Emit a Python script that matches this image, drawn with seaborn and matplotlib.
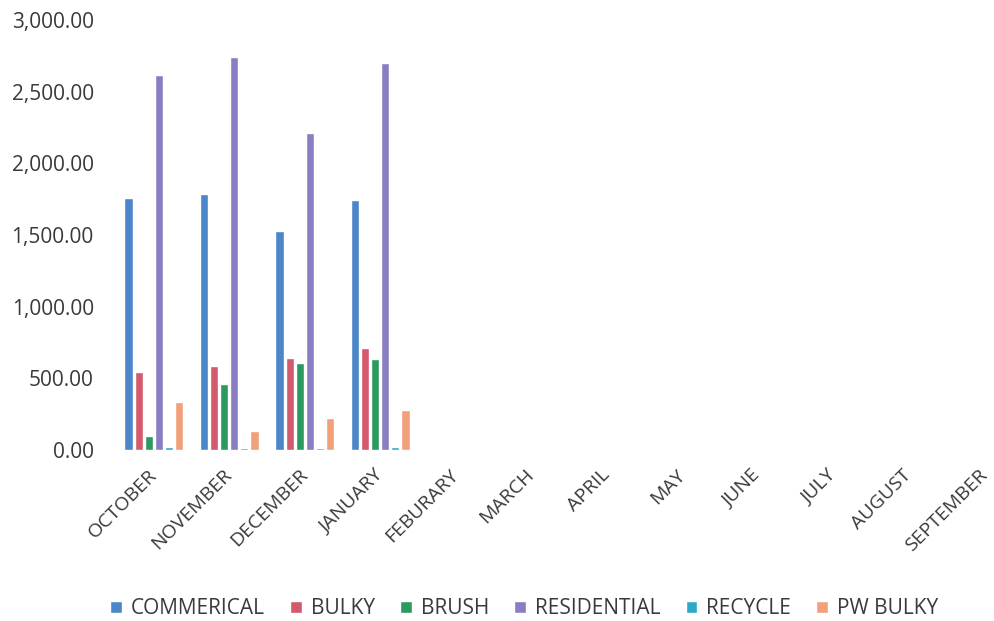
import matplotlib
matplotlib.use("Agg")
import matplotlib.pyplot as plt
import seaborn as sns
import pandas as pd
from matplotlib.ticker import FuncFormatter

months = ["OCTOBER", "NOVEMBER", "DECEMBER", "JANUARY", "FEBURARY", "MARCH",
          "APRIL", "MAY", "JUNE", "JULY", "AUGUST", "SEPTEMBER"]
data_months = ["OCTOBER", "NOVEMBER", "DECEMBER", "JANUARY"]
series = ["COMMERICAL", "BULKY", "BRUSH", "RESIDENTIAL", "RECYCLE", "PW BULKY"]

commerical = [1758, 1786, 1528, 1745]
bulky = [544, 586, 642, 712]
brush = [98, 460, 607, 635]
residential = [2617, 2742, 2212, 2700]
recycle = [20, 15, 15, 18]
pw_bulky = [335, 133, 223, 279]

colors = ["#4a86c8", "#d3596c", "#2a9a60", "#8b7dc1", "#2fa7c7", "#f1a07b"]

values = [commerical, bulky, brush, residential, recycle, pw_bulky]
rows = []
for s, vals in zip(series, values):
    for m, v in zip(data_months, vals):
        rows.append({"month": m, "series": s, "value": v})
df = pd.DataFrame(rows)

sns.set_theme(style="white")
plt.rcParams["font.family"] = ["Open Sans", "DejaVu Sans"]
text_color = "#3a3a3a"

fig = plt.figure(figsize=(9.95, 6.21), dpi=100)
ax = fig.add_axes([116 / 995, (621 - 450) / 621, 906 / 995, 430 / 621])

sns.barplot(data=df, x="month", y="value", hue="series", order=months,
            hue_order=series, palette=colors, width=0.8, gap=0.18,
            ax=ax, legend=True, saturation=1)

ax.set_xlim(-0.5, 11.5)
ax.set_ylim(0, 3000)
ax.set_yticks([0, 500, 1000, 1500, 2000, 2500, 3000])
ax.yaxis.set_major_formatter(FuncFormatter(lambda v, p: f"{v:,.2f}"))
ax.set_xlabel("")
ax.set_ylabel("")
for sp in ax.spines.values():
    sp.set_visible(False)
ax.tick_params(axis="both", length=0, colors=text_color)
ax.tick_params(axis="y", pad=16, labelsize=15)
ax.tick_params(axis="x", pad=16, labelsize=14)
for lbl in ax.get_xticklabels():
    lbl.set_rotation(45)
    lbl.set_ha("right")
    lbl.set_va("center")
    lbl.set_rotation_mode("anchor")

handles, labels = ax.get_legend_handles_labels()
ax.get_legend().remove()
leg = fig.legend(handles, labels, loc="center", ncol=6,
                 bbox_to_anchor=(0.527, 1 - 609 / 621), frameon=False,
                 fontsize=15, handlelength=0.55, handleheight=0.55,
                 handletextpad=0.45, columnspacing=1.2)
for t in leg.get_texts():
    t.set_color(text_color)

fig.savefig("out.png", dpi=100)
